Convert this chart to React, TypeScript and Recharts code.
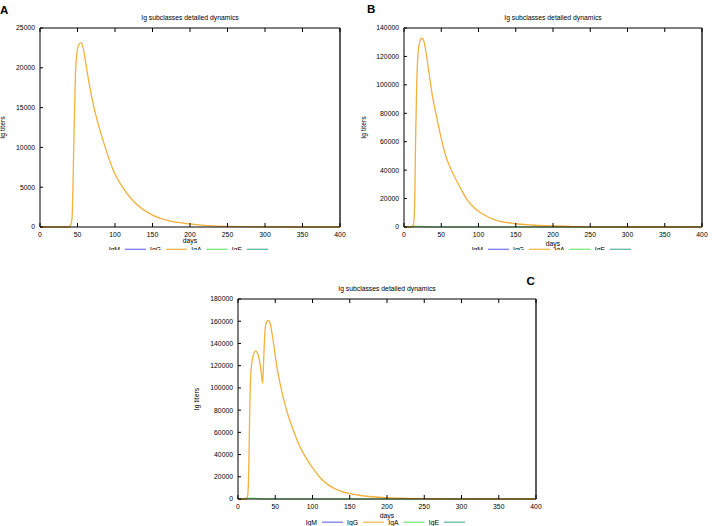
import { LineChart, Line, XAxis, YAxis, ReferenceLine } from 'recharts';

const DAY_TICKS = [0, 50, 100, 150, 200, 250, 300, 350, 400];
const SERIES_NAMES = ['IgM', 'IgG', 'IgA', 'IgE'];
const SERIES_COLORS = ['#7b7bf0', '#f3bb4a', '#7ee87e', '#63b8a6'];
const TITLE = 'Ig subclasses detailed dynamics';

// panel A
const daysA = [0, 38, 40, 42.7, 44, 45.4, 47.2, 49.4, 52, 54.7, 57.4, 62, 66, 72, 79.6, 87, 97, 110, 124, 150, 176, 200, 229, 250, 275, 300, 350, 400];
const iggA = [0, 0, 100, 1080, 5250, 11900, 19000, 21900, 22960, 23170, 22540, 20000, 17800, 15000, 12300, 10000, 7300, 5000, 3300, 1500, 700, 380, 130, 80, 35, 10, 0, 0];
const yTicksA = [0, 5000, 10000, 15000, 20000, 25000];

// panel B
const daysB = [0, 10, 12, 13.2, 14.6, 15.5, 16.8, 18.6, 20.9, 23.5, 25.8, 28.9, 33.4, 37.9, 42.4, 49.1, 55.8, 64.8, 73.8, 85, 96.2, 109.6, 123, 150, 170, 200, 225, 250, 275, 300, 350, 400];
const iggB = [0, 0, 800, 3700, 24700, 59700, 94800, 120400, 129800, 132800, 132100, 125100, 109000, 93000, 80800, 64400, 50400, 38700, 29400, 18900, 12600, 7900, 4900, 2300, 1400, 700, 350, 150, 60, 15, 0, 0];
const igaDaysB = [0, 5, 10, 15, 20, 30, 40, 400];
const igaB = [0, 0, 300, 600, 500, 200, 0, 0];
const yTicksB = [0, 20000, 40000, 60000, 80000, 100000, 120000, 140000];

// panel C
const daysC = [0, 10, 12, 13.2, 14.6, 15.5, 16.8, 18.6, 20.9, 23.5, 26.2, 28.9, 31.2, 33, 34.3, 36.1, 38.3, 40.6, 43.3, 46.9, 51.3, 58.1, 64.8, 73.8, 82.7, 91.7, 100.7, 111.9, 123.1, 136.5, 150, 170, 200, 225, 250, 275, 300, 350, 400];
const iggC = [0, 0, 900, 4200, 32700, 68800, 107800, 122800, 130300, 133300, 131200, 124300, 113800, 104200, 122800, 149900, 159500, 160700, 157400, 143800, 122800, 98800, 80800, 62800, 47700, 36500, 27500, 18000, 11800, 7400, 4800, 2700, 1200, 600, 300, 120, 50, 0, 0];
const igaDaysC = [0, 5, 10, 15, 20, 25, 30, 35, 400];
const igaC = [0, 100, 600, 900, 800, 500, 200, 0, 0];
const yTicksC = [0, 20000, 40000, 60000, 80000, 100000, 120000, 140000, 160000, 180000];

const toPoints = (days: number[], vals: number[]) => days.map((d, i) => ({ day: d, v: vals[i] }));

const FONT = '"Liberation Sans", Arial, sans-serif';
const Y_AXIS_W = 40;
const TOP = 28;
const BOTTOM = 28;

// bottom tick: inward tick at the bottom, mirrored inward tick at the top border, label below
const BottomTick = (p: any) => (
  <g>
    <line x1={p.x} x2={p.x} y1={p.y} y2={p.y - 4} stroke="#000" />
    <line x1={p.x} x2={p.x} y1={TOP} y2={TOP + 4} stroke="#000" />
    <text x={p.x} y={p.y + 9.7} textAnchor="middle" fontSize={6.8} fontFamily={FONT} fill="#000" stroke="none">
      {p.payload.value}
    </text>
  </g>
);

const LeftTick = (p: any) => (
  <g>
    <line x1={p.x} x2={p.x + 3} y1={p.y} y2={p.y} stroke="#000" />
    <text x={p.x - 5} y={p.y + 2.4} textAnchor="end" fontSize={6.8} fontFamily={FONT} fill="#000" stroke="none">
      {p.payload.value}
    </text>
  </g>
);

interface PanelProps {
  left: number;
  top: number;
  plotW: number;
  plotH: number;
  yTicks: number[];
  igg: { day: number; v: number }[];
  iga?: { day: number; v: number }[];
}

function Panel({ left, top, plotW, plotH, yTicks, igg, iga }: PanelProps) {
  const W = Y_AXIS_W + plotW + 10;
  const H = TOP + plotH + BOTTOM;
  const yMax = yTicks[yTicks.length - 1];
  return (
    <div style={{ position: 'absolute', left, top, width: W, height: H }}>
      <LineChart width={W} height={H} margin={{ top: TOP, right: 10, bottom: 0, left: 0 }}>
        <XAxis
          xAxisId="b"
          type="number"
          dataKey="day"
          domain={[0, 400]}
          ticks={DAY_TICKS}
          interval={0}
          orientation="bottom"
          height={BOTTOM}
          tickSize={0}
          tickMargin={0}
          axisLine={{ stroke: '#000' }}
          tick={(p: any) => <BottomTick {...p} />}
        />
        <YAxis
          yAxisId="l"
          type="number"
          domain={[0, yMax]}
          ticks={yTicks}
          interval={0}
          width={Y_AXIS_W}
          tickSize={0}
          tickMargin={0}
          axisLine={{ stroke: '#000' }}
          tick={(p: any) => <LeftTick {...p} />}
        />
        <ReferenceLine xAxisId="b" yAxisId="l" y={yMax} stroke="#000" ifOverflow="visible" />
        <ReferenceLine xAxisId="b" yAxisId="l" x={400} stroke="#333" strokeWidth={1.6} ifOverflow="visible" />
        {iga && (
          <Line
            xAxisId="b"
            yAxisId="l"
            data={iga}
            dataKey="v"
            type="monotone"
            stroke={SERIES_COLORS[2]}
            strokeWidth={1.2}
            dot={false}
            isAnimationActive={false}
          />
        )}
        <Line
          xAxisId="b"
          yAxisId="l"
          data={igg}
          dataKey="v"
          type="monotone"
          stroke="#f2b13a"
          strokeWidth={1.3}
          dot={false}
          isAnimationActive={false}
        />
      </LineChart>
    </div>
  );
}

interface LabelSpec {
  letter: string;
  letterX: number;
  letterY: number;
  plotL: number;
  plotR: number;
  plotT: number;
  plotB: number;
  yLabelX: number;
  daysY: number;
  legendY: number;
  clip?: number;
}

function Labels({ s }: { s: LabelSpec }) {
  const cx = (s.plotL + s.plotR) / 2;
  const cy = (s.plotT + s.plotB) / 2;
  const offsets = [-65, -24, 16.5, 57];
  const clipId = `clip-${s.letter}`;
  return (
    <g fontFamily={FONT} fill="#000">
      {s.clip && (
        <defs>
          <clipPath id={clipId}>
            <rect x={0} y={0} width={712} height={s.clip} />
          </clipPath>
        </defs>
      )}
      <text x={s.letterX} y={s.letterY} fontSize={11.5} fontWeight="bold">
        {s.letter}
      </text>
      <text x={cx} y={s.plotT - 8.5} fontSize={6.8} textAnchor="middle">
        {TITLE}
      </text>
      <text
        x={s.yLabelX}
        y={cy}
        fontSize={6.8}
        textAnchor="middle"
        transform={`rotate(-90 ${s.yLabelX} ${cy})`}
      >
        Ig titers
      </text>
      <text x={cx} y={s.daysY} fontSize={6.8} textAnchor="middle">
        days
      </text>
      <g clipPath={s.clip ? `url(#${clipId})` : undefined}>
        {SERIES_NAMES.map((name, i) => {
          const lx = cx + offsets[i];
          return (
            <g key={name}>
              <text x={lx - 5} y={s.legendY} fontSize={6.8} textAnchor="end">
                {name}
              </text>
              <line x1={lx} x2={lx + 21} y1={s.legendY - 2.3} y2={s.legendY - 2.3} stroke={SERIES_COLORS[i]} strokeWidth={1.3} />
            </g>
          );
        })}
      </g>
    </g>
  );
}

const labelSpecs: LabelSpec[] = [
  { letter: 'A', letterX: 0, letterY: 13.5, plotL: 40, plotR: 340, plotT: 28, plotB: 227, yLabelX: 5, daysY: 243, legendY: 251.6, clip: 250 },
  { letter: 'B', letterX: 367, letterY: 12.5, plotL: 404, plotR: 702, plotT: 28, plotB: 227, yLabelX: 366, daysY: 246, legendY: 251.6, clip: 250 },
  { letter: 'C', letterX: 526.5, letterY: 285, plotL: 238, plotR: 536, plotT: 299, plotB: 499, yLabelX: 198.5, daysY: 518, legendY: 524.5 },
];

export default function App() {
  return (
    <div style={{ position: 'fixed', left: 0, top: 0, width: 712, height: 526, background: '#fff', overflow: 'hidden' }}>
      <Panel left={0} top={0} plotW={300} plotH={199} yTicks={yTicksA} igg={toPoints(daysA, iggA)} />
      <Panel left={364} top={0} plotW={298} plotH={199} yTicks={yTicksB} igg={toPoints(daysB, iggB)} iga={toPoints(igaDaysB, igaB)} />
      <Panel left={198} top={271} plotW={298} plotH={200} yTicks={yTicksC} igg={toPoints(daysC, iggC)} iga={toPoints(igaDaysC, igaC)} />
      <svg width={712} height={526} style={{ position: 'absolute', left: 0, top: 0, pointerEvents: 'none' }}>
        {labelSpecs.map((s) => (
          <Labels key={s.letter} s={s} />
        ))}
      </svg>
    </div>
  );
}
